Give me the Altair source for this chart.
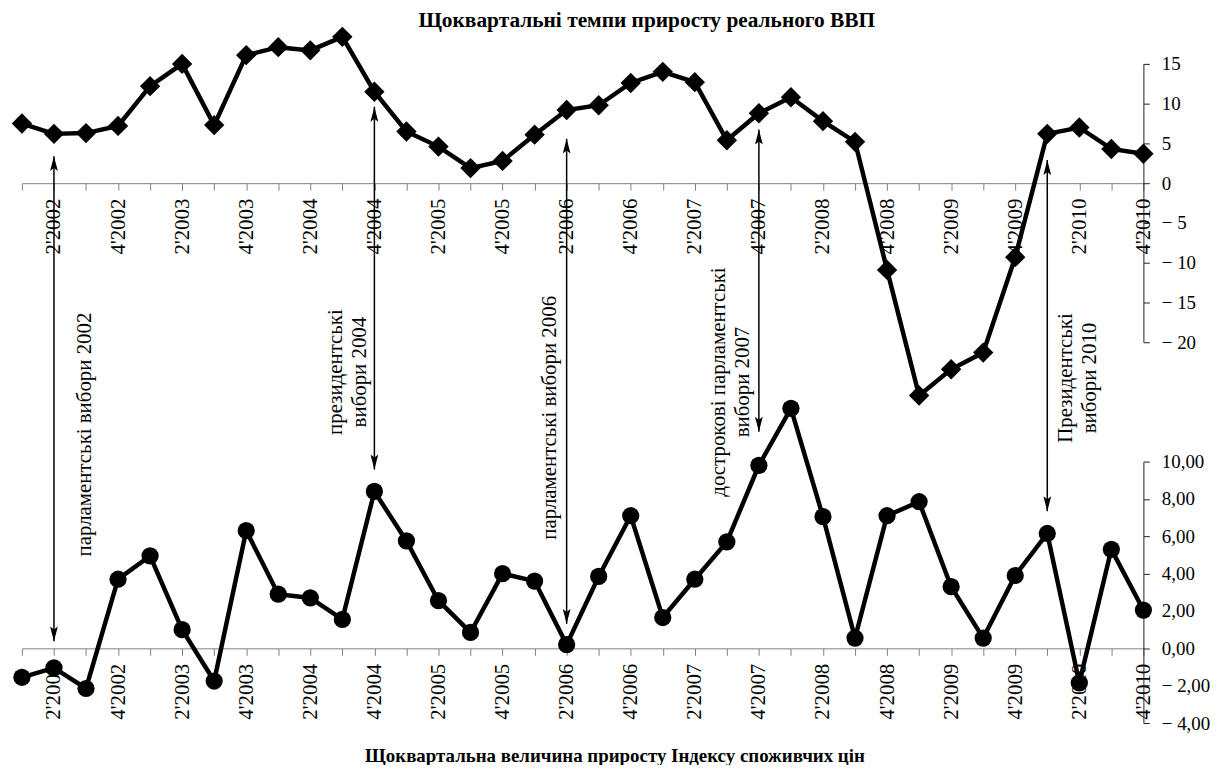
import altair as alt
import pandas as pd

FONT = "Liberation Serif"

quarters = [f"{q}'{y}" for y in range(2002, 2011) for q in range(1, 5)]

gdp_growth = [7.5, 6.2, 6.3, 7.2, 12.2, 15.0, 7.3, 16.1, 17.1, 16.7, 18.4, 11.5,
              6.5, 4.6, 1.9, 2.8, 6.1, 9.2, 9.8, 12.6, 14.0, 12.7, 5.4, 8.8,
              10.8, 7.8, 5.2, -10.9, -26.7, -23.4, -21.3, -9.3, 6.2, 7.0, 4.3, 3.7]

cpi_growth = [-1.55, -1.05, -2.15, 3.7, 4.95, 1.0, -1.75, 6.3, 2.9, 2.7, 1.55, 8.4,
              5.75, 2.55, 0.85, 4.0, 3.6, 0.2, 3.85, 7.1, 1.65, 3.7, 5.7, 9.8,
              12.85, 7.05, 0.55, 7.1, 7.85, 3.3, 0.55, 3.9, 6.15, -1.85, 5.3, 2.05]

top_ticks = [-20, -15, -10, -5, 0, 5, 10, 15]
bottom_ticks = [-4, -2, 0, 2, 4, 6, 8, 10]

# election annotations (vertical positions in GDP-axis units)
election_q = ["2'2002", "4'2004", "2'2006", "4'2007", "1'2010"]
arrow_top = [3.4, 9.6, 5.6, 6.75, 2.9]
arrow_bottom = [-57.6, -36.0, -55.4, -31.25, -41.25]
note_text = ["парламентські вибори 2002",
             "президентські\nвибори 2004",
             "парламентські вибори 2006",
             "дострокові парламентські\nвибори 2007",
             "Президентські\nвибори 2010"]
note_y = [-31.6, -23.75, -29.5, -25.0, -24.5]
note_shift = [31, -38.5, -17, -40, 19]

title_top = "Щоквартальні темпи приросту реального ВВП"
title_bottom = "Щоквартальна величина приросту Індексу споживчих цін"

# layout (view pixels)
W, H = 1128, 699
top_domain, top_range = [-20, 15], [316, 36]
bot_domain, bot_range = [-4, 10], [699, 436]


def zero_px(dom, rng):
    return rng[0] + (0 - dom[0]) / (dom[1] - dom[0]) * (rng[1] - rng[0])


top_zero = zero_px(top_domain, top_range)
top_offset = -(H - top_zero)
bot_offset = -(H - zero_px(bot_domain, bot_range))

df = pd.DataFrame({"q": quarters, "gdp": gdp_growth, "cpi": cpi_growth})
df_arr = pd.DataFrame({"q": election_q, "top": arrow_top, "bottom": arrow_bottom,
                       "note": note_text, "ny": note_y, "i": list(range(len(election_q)))})

label_expr = ("(substring(datum.value,0,1) == '2' || substring(datum.value,0,1) == '4') "
              "? datum.value : ''")

x_common = dict(orient="bottom", labelAngle=270, labelExpr=label_expr, labelFont=FONT,
                labelFontSize=21, labelColor="black", domainColor="#808080",
                tickColor="#808080", tickSize=7, labelPadding=8, grid=False,
                labelOverlap=False, labelBound=False, titleFont=FONT,
                titleFontWeight="bold", titleColor="black",
                titleBaseline="middle", titleAnchor="start", titleAlign="center")

x_scale = alt.Scale(type="point", padding=0, domain=quarters)
x_top = alt.X("q:O", scale=x_scale,
              axis=alt.Axis(offset=top_offset, title=title_top, titleFontSize=21.5,
                            titleX=628, titleY=-164, **x_common))
x_bot = alt.X("q:O", scale=x_scale,
              axis=alt.Axis(offset=bot_offset, title=title_bottom, titleFontSize=19,
                            titleX=596, titleY=108, **x_common))

top_scale = alt.Scale(domain=top_domain, range=top_range, nice=False, zero=False)
bot_scale = alt.Scale(domain=bot_domain, range=bot_range, nice=False, zero=False)

y_common = dict(orient="right", labelFont=FONT, labelFontSize=19, labelColor="black",
                domainColor="#222222", tickColor="#222222", tickSize=6, labelPadding=12,
                grid=False, title=None, labelBound=False, labelOverlap=False)

top_axis = alt.Axis(values=top_ticks,
                    labelExpr="datum.value < 0 ? '− ' + format(-datum.value, 'd') : '\u2009' + format(datum.value, 'd')",
                    **y_common)
bot_axis = alt.Axis(values=bottom_ticks,
                    labelExpr="datum.value < 0 ? '− ' + replace(format(-datum.value, '.2f'), '.', ',') : '\u2009' + replace(format(datum.value, '.2f'), '.', ',')",
                    **y_common)

UP = "M0,0 L0.26,1 L0,0.8 L-0.26,1 Z"
DOWN = "M0,0 L0.26,-1 L0,-0.8 L-0.26,-1 Z"

base_arr = alt.Chart(df_arr)
rules = base_arr.mark_rule(color="black", strokeWidth=1.5).encode(
    x=x_top, y=alt.Y("top:Q", scale=top_scale, axis=top_axis), y2="bottom:Q")
heads_up = base_arr.mark_point(shape=UP, filled=True, size=900, color="black",
                               opacity=1, strokeWidth=0).encode(
    x=x_top, y=alt.Y("top:Q", scale=top_scale, axis=top_axis))
heads_down = base_arr.mark_point(shape=DOWN, filled=True, size=900, color="black",
                                 opacity=1, strokeWidth=0).encode(
    x=x_top, y=alt.Y("bottom:Q", scale=top_scale, axis=top_axis))

notes = []
for k in range(len(election_q)):
    notes.append(
        base_arr.transform_filter(alt.datum.i == k).mark_text(
            angle=270, dy=note_shift[k], lineBreak="\n", font=FONT, fontSize=21,
            color="black", align="center", baseline="middle", lineHeight=24
        ).encode(x=x_top, y=alt.Y("ny:Q", scale=top_scale, axis=top_axis), text="note:N")
    )

base = alt.Chart(df)
gdp_line = base.mark_line(color="black", strokeWidth=4.5).encode(
    x=x_top, y=alt.Y("gdp:Q", scale=top_scale, axis=top_axis))
gdp_pts = base.mark_point(shape="diamond", filled=True, size=420, color="black",
                          opacity=1).encode(
    x=x_top, y=alt.Y("gdp:Q", scale=top_scale, axis=top_axis))

cpi_line = base.mark_line(color="black", strokeWidth=4.5).encode(
    x=x_bot, y=alt.Y("cpi:Q", scale=bot_scale, axis=bot_axis))
cpi_pts = base.mark_point(shape="circle", filled=True, size=300, color="black",
                          opacity=1).encode(
    x=x_bot, y=alt.Y("cpi:Q", scale=bot_scale, axis=bot_axis))

top_layer = alt.layer(gdp_line, gdp_pts, rules, heads_up, heads_down, *notes)
bot_layer = alt.layer(cpi_line, cpi_pts)

chart = alt.layer(top_layer, bot_layer).resolve_scale(
    y="independent").resolve_axis(x="independent", y="independent").properties(
    width=W, height=H,
    autosize=alt.AutoSizeParams(type="none"),
    padding={"left": 14, "top": 18, "right": 69, "bottom": 40},
    background="white",
).configure_view(strokeWidth=0)

chart.save("out.html", embed_options={"renderer": "svg", "actions": False})
